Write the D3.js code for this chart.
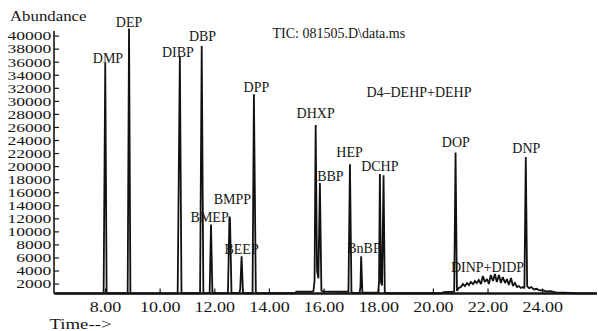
<!DOCTYPE html>
<html>
<head>
<meta charset="utf-8">
<script src="https://cdn.jsdelivr.net/npm/d3@7/dist/d3.min.js"></script>
<style>
  html, body { margin: 0; padding: 0; background: #fff; }
  svg { display: block; }
  text { font-family: "Liberation Serif", "Times New Roman", serif; fill: #161616; }
</style>
</head>
<body>
<svg id="chart" width="598" height="331"></svg>
<script>
// Total ion chromatogram: retention time (min) vs. abundance.
const xTicks = [8, 10, 12, 14, 16, 18, 20, 22, 24];
const yTicks = [2000, 4000, 6000, 8000, 10000, 12000, 14000, 16000, 18000, 20000,
                22000, 24000, 26000, 28000, 30000, 32000, 34000, 36000, 38000, 40000];

// Trace points [time, abundance]
const trace = [
  [6.20, 500], [7.95, 510], [8.01, 35800], [8.06, 520],
  [8.83, 520], [8.88, 41100], [8.93, 540], [9.00, 510],
  [10.66, 520], [10.74, 36800], [10.80, 600], [10.86, 520],
  [11.48, 520], [11.54, 38400], [11.60, 560],
  [11.83, 540], [11.88, 11050], [11.93, 800], [11.97, 520],
  [12.50, 560], [12.555, 12270], [12.575, 11900], [12.63, 580],
  [12.92, 560], [12.95, 1200], [13.00, 6170], [13.05, 700], [13.10, 520],
  [13.40, 520], [13.45, 31000], [13.52, 700], [13.58, 520],
  [14.95, 520], [15.00, 750], [15.60, 780],
  [15.63, 900], [15.67, 2500], [15.71, 26300], [15.76, 4000], [15.81, 2800],
  [15.865, 17400], [15.92, 900], [15.98, 800], [16.80, 750],
  [16.91, 800], [16.965, 20300], [17.02, 800], [17.06, 520],
  [17.32, 600], [17.35, 1500], [17.375, 6170], [17.42, 650],
  [18.00, 600], [18.03, 2300], [18.06, 18800], [18.10, 2200], [18.14, 1700],
  [18.195, 18600], [18.24, 700], [18.30, 520],
  [20.30, 520], [20.40, 700], [20.75, 750],
  [20.78, 800], [20.83, 22100], [20.88, 900],
  [20.95, 1320], [21.03, 1500], [21.10, 1930], [21.17, 1620], [21.25, 2080],
  [21.32, 1780], [21.39, 2240], [21.47, 1930], [21.54, 2390], [21.61, 2080],
  [21.68, 2540], [21.76, 1930], [21.83, 3160], [21.90, 2240], [21.98, 2700],
  [22.05, 1930], [22.12, 3310], [22.20, 2390], [22.27, 3460], [22.34, 2240],
  [22.42, 3310], [22.49, 2080], [22.56, 3000], [22.64, 2080], [22.71, 2700],
  [22.78, 1780], [22.86, 2850], [22.93, 1620], [23.00, 2080], [23.08, 1470],
  [23.15, 1620], [23.22, 1320], [23.29, 1470],
  [23.35, 1300], [23.40, 21400], [23.45, 1600],
  [23.52, 1300], [23.60, 1450], [23.70, 1100], [23.80, 1200], [23.90, 950],
  [24.00, 1000], [24.15, 800], [24.30, 850], [24.50, 650], [24.80, 600],
  [25.20, 520], [25.97, 500]
];

// Compound labels: name, retention time, abundance of the label baseline
const peakNames  = ["DMP", "DEP", "DIBP", "DBP", "BMEP", "BMPP", "BEEP", "DPP", "DHXP",
                    "BBP", "HEP", "BnBP", "DCHP", "DOP", "DNP", "DINP+DIDP", "D4\u2013DEHP+DEHP"];
const peakTimes  = [8.11, 8.88, 10.67, 11.57, 11.83, 12.66, 13.00, 13.54, 15.71,
                    16.25, 16.95, 17.48, 18.06, 20.84, 23.42, 22.00, 19.49];
const peakLevels = [35800, 41310, 36700, 39210, 11480, 14190, 6480, 31400, 27320,
                    17760, 21350, 6730, 19290, 22970, 22050, 3820, 30660];

const svg = d3.select("#chart");

const x = d3.scaleLinear().domain([6.134, 25.97]).range([54, 596]);
const y = d3.scaleLinear().domain([480, 40000]).range([293.5, 35.6]);

// Y axis: ticks pointing into the plot, labels stretched horizontally
const yAxis = svg.append("g")
  .attr("transform", `translate(${x.range()[0]},0)`)
  .call(d3.axisLeft(y).tickValues(yTicks).tickFormat(d3.format("d"))
        .tickSize(-5).tickSizeOuter(0).tickPadding(2.1));
yAxis.select(".domain").remove();
yAxis.selectAll(".tick line").attr("stroke", "#161616").attr("stroke-width", 1.2);
yAxis.selectAll(".tick text")
  .attr("font-size", 13.5)
  .attr("font-family", "Liberation Serif")
  .attr("fill", "#161616")
  .attr("transform", "scale(1.3,1)");

// X axis
const xAxis = svg.append("g")
  .attr("transform", `translate(0,${y.range()[0]})`)
  .call(d3.axisBottom(x).tickValues(xTicks).tickFormat(d3.format(".2f"))
        .tickSize(-5).tickSizeOuter(0).tickPadding(8));
xAxis.select(".domain").remove();
xAxis.selectAll(".tick line").attr("stroke", "#161616").attr("stroke-width", 1.2);
xAxis.selectAll(".tick text")
  .attr("font-size", 15)
  .attr("font-family", "Liberation Serif")
  .attr("fill", "#161616")
  .attr("transform", "scale(1.2,1)");

// Axis lines
svg.append("line")
  .attr("x1", x.range()[0]).attr("x2", x.range()[0])
  .attr("y1", 31).attr("y2", y.range()[0])
  .attr("stroke", "#161616").attr("stroke-width", 1.6);
svg.append("line")
  .attr("x1", x.range()[0]).attr("x2", 597)
  .attr("y1", y.range()[0]).attr("y2", y.range()[0])
  .attr("stroke", "#161616").attr("stroke-width", 2.6);

// Chromatogram trace
const line = d3.line().x(d => x(d[0])).y(d => y(d[1]));
svg.append("path")
  .datum(trace)
  .attr("d", line)
  .attr("fill", "none")
  .attr("stroke", "#111")
  .attr("stroke-width", 1.8)
  .attr("stroke-linejoin", "miter")
  .attr("stroke-miterlimit", 2);

// Compound labels
svg.append("g").selectAll("text")
  .data(peakNames)
  .join("text")
  .attr("x", (d, i) => x(peakTimes[i]))
  .attr("y", (d, i) => y(peakLevels[i]))
  .attr("text-anchor", "middle")
  .attr("font-size", 14)
  .text(d => d);

// Titles
svg.append("text")
  .attr("x", 272.5).attr("y", 37.5)
  .attr("font-size", 14)
  .text("TIC: 081505.D\\data.ms");

svg.append("text")
  .attr("transform", "translate(10,20.5) scale(1.2,1)")
  .attr("font-size", 14)
  .text("Abundance");

svg.append("text")
  .attr("x", 49.5).attr("y", 329)
  .attr("font-size", 14.5)
  .attr("textLength", 62)
  .attr("lengthAdjust", "spacingAndGlyphs")
  .text("Time-->");
</script>
</body>
</html>
